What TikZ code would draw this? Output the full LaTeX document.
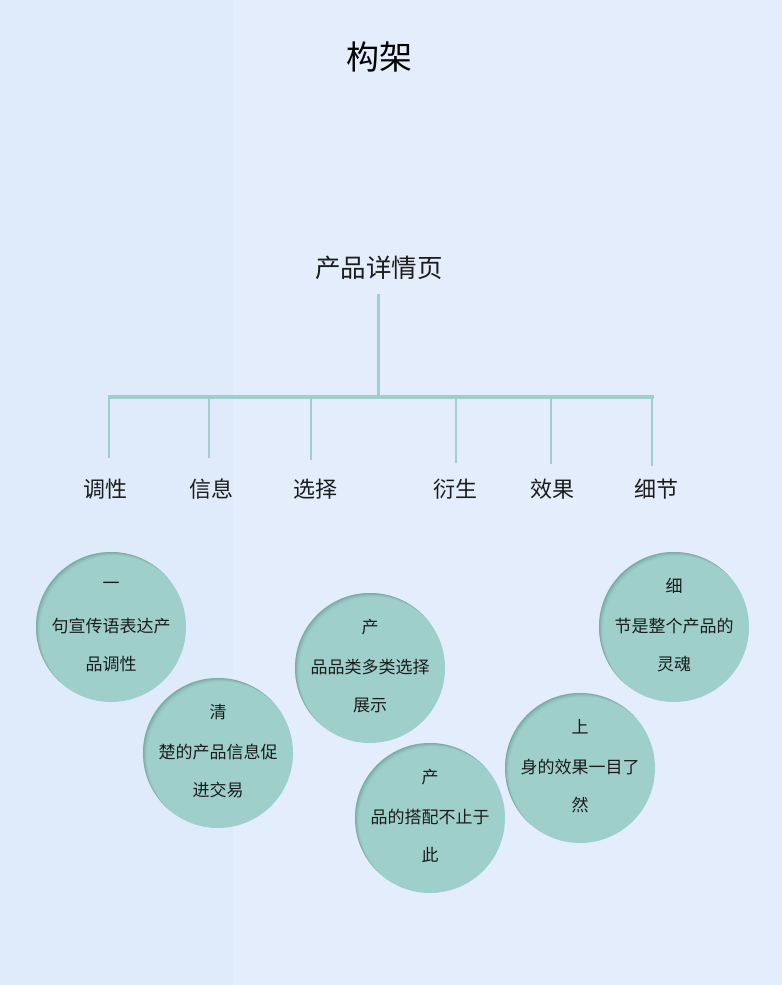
\documentclass[tikz,border=0pt]{standalone}
\usepackage{fontspec}
\setmainfont{Noto Sans CJK SC}
\definecolor{bgleft}{HTML}{DFEBFA}
\definecolor{bgright}{HTML}{E3EDFB}
\definecolor{mygreen}{HTML}{9ECFCA}
\definecolor{myshade}{HTML}{5F8E8A}
\definecolor{mytext}{HTML}{1C1C1C}

\begin{document}
\begin{tikzpicture}[x=1pt,y=-1pt,
  bubble/.style={circle,fill=mygreen,minimum size=150pt,inner sep=0pt},
  bubbletxt/.style={font=\fontsize{17}{17}\selectfont,text=mytext,inner sep=0pt},
  branchtxt/.style={font=\fontsize{22}{22}\selectfont,text=mytext},
  twig/.style={mygreen,line width=2.4pt},
  bar/.style={mygreen,line width=4pt}]
  \fill[bgright] (0,0) rectangle (782,985);
  \fill[bgleft] (0,0) rectangle (233,985);
  \useasboundingbox (0,0) rectangle (782,985);
  % heading and root
  \node[font=\fontsize{33}{33}\selectfont,text=black] (title) at (379,57) {构架};
  \node[font=\fontsize{25.5}{25.5}\selectfont,text=mytext] (root) at (379,268) {产品详情页};
  \coordinate (top) at (378,294);
  \coordinate (hub) at (378,397);
  \draw[mygreen,line width=3pt] (top) -- (hub);
  % branches
  \foreach \bx/\ex/\lx/\tl [count=\i] in {109/458/105/调性,209/458/211/信息,311/460/315/选择,
      456/463/455/衍生,551/464/552/效果,652/466/656/细节} {
    \coordinate (b\i) at (\bx,397);
    \coordinate (e\i) at (\bx,\ex);
    \node[branchtxt] (l\i) at (\lx,489) {\tl};
    \draw[twig] (b\i) -- (e\i);}
  \draw[bar] ([xshift=-1.5pt]b1) -- ([xshift=1.5pt]b6);
  % bubbles
  \foreach \cx/\cy/\lnA/\lnB/\lnC [count=\i] in {111/627/一/句宣传语表达产/品调性,
      218/753/清/楚的产品信息促/进交易,370/668/产/品品类多类选择/展示,
      430/818/产/品的搭配不止于/此,580/768/上/身的效果一目了/然,
      674/627/细/节是整个产品的/灵魂} {
    \node[bubble] (c\i) at (\cx,\cy) {};
    \begin{scope}
      \clip (c\i.center) circle (75);
      \foreach \d/\op in {1/0.30,2/0.18,3/0.10,4/0.06}
        \draw[myshade,opacity=\op,line width=10pt] ([shift={(\d,\d)}]c\i.center) circle (80);
    \end{scope}
    \node[bubbletxt] (c\i a) at ([shift={(0,-41)}]c\i.center) {\lnA};
    \node[bubbletxt] (c\i b) at ([shift={(0,-1)}]c\i.center) {\lnB};
    \node[bubbletxt] (c\i c) at ([shift={(0,37)}]c\i.center) {\lnC};}
\end{tikzpicture}
\end{document}
